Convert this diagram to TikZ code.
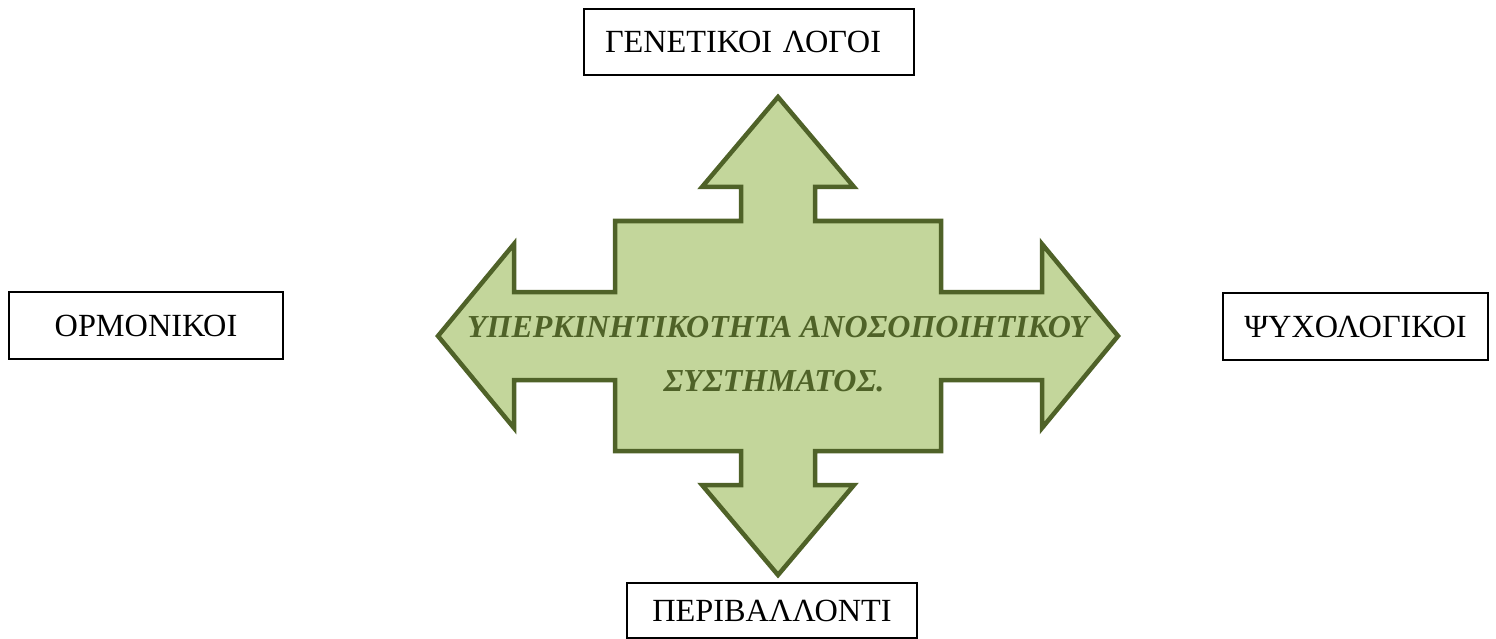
\documentclass[tikz,border=0pt]{standalone}
\usepackage{fontspec}
\setmainfont{Liberation Serif}
\definecolor{olivefill}{HTML}{C3D69B}
\definecolor{olivedark}{HTML}{4F6228}
\tikzset{
  factor/.style={draw=black, line width=1.8pt, fill=white, inner sep=0pt,
    font=\fontsize{32.3}{36}\selectfont},
  bigarrow/.style={draw=olivedark, fill=olivefill, line width=4.5pt, line join=miter},
  arrowtext/.style={text=olivedark, inner sep=0pt, anchor=base,
    font=\fontsize{32}{36}\selectfont\bfseries\itshape}
}
\begin{document}
\begin{tikzpicture}[x=1pt, y=-1pt]
\useasboundingbox (0,0) rectangle (1496,639);
% central four-way arrow
\coordinate (c) at (778,336);
\draw[bigarrow, shift={(c)}]
  (0,-239) -- (76,-149) -- (37,-149) -- (37,-115) -- (163,-115) -- (163,-44)
  -- (264,-44) -- (264,-92) -- (340,0) -- (264,92) -- (264,44) -- (163,44)
  -- (163,115) -- (37,115) -- (37,149) -- (76,149) -- (0,239) -- (-76,149)
  -- (-37,149) -- (-37,115) -- (-163,115) -- (-163,44) -- (-264,44) -- (-264,92)
  -- (-340,0) -- (-264,-92) -- (-264,-44) -- (-163,-44) -- (-163,-115)
  -- (-37,-115) -- (-37,-149) -- (-76,-149) -- cycle;
\node[arrowtext] (t1) at (778,337) {ΥΠΕΡΚΙΝΗΤΙΚΟΤΗΤΑ ΑΝΟΣΟΠΟΙΗΤΙΚΟΥ};
\node[arrowtext] (t2) at (774,391) {ΣΥΣΤΗΜΑΤΟΣ.};
% factor boxes
\node[factor, minimum width=330pt, minimum height=66pt, text width=288pt,
  inner xsep=21pt, align=left] (gen) at (749,42) {ΓΕΝΕΤΙΚΟΙ ΛΟΓΟΙ};
\node[factor, minimum width=274pt, minimum height=67pt] (orm) at (146,325.5) {ΟΡΜΟΝΙΚΟΙ};
\node[factor, minimum width=265pt, minimum height=67pt] (psy) at (1355.5,326.5) {ΨΥΧΟΛΟΓΙΚΟΙ};
\node[factor, minimum width=290pt, minimum height=55pt] (per) at (772,610.5) {ΠΕΡΙΒΑΛΛΟΝΤΙ};
\end{tikzpicture}
\end{document}
